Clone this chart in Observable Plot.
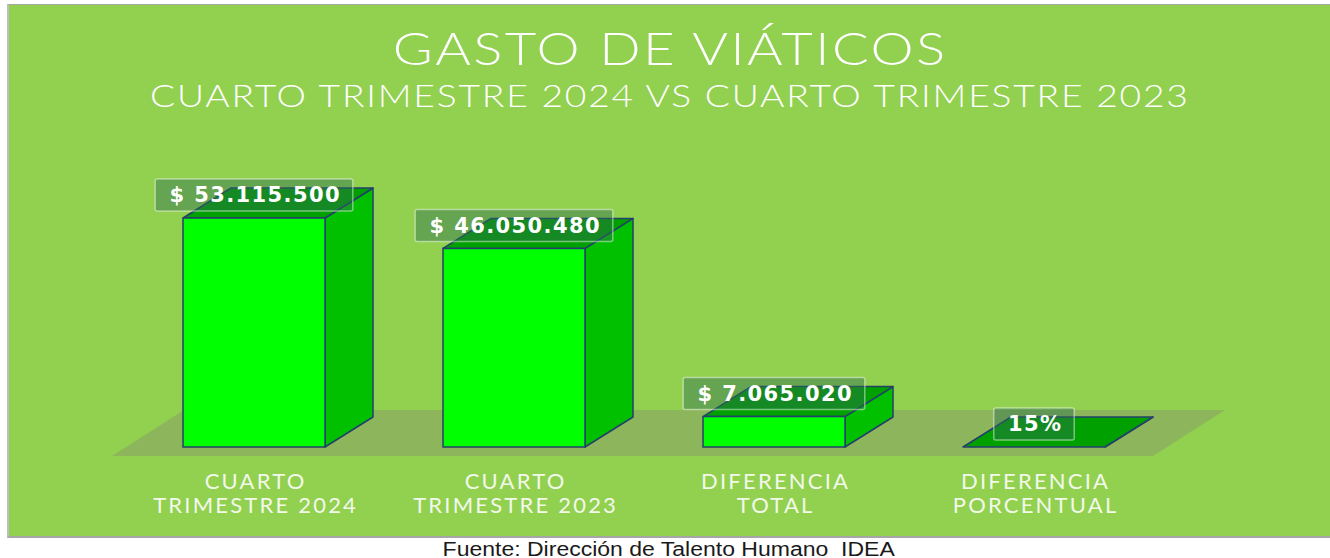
<!DOCTYPE html>
<html><head><meta charset="utf-8">
<script src="https://cdn.jsdelivr.net/npm/d3@7"></script>
<script src="https://cdn.jsdelivr.net/npm/@observablehq/plot@0.6"></script>
<style>
html,body{margin:0;padding:0;background:#fff;}
body{width:1330px;height:558px;overflow:hidden;position:relative;}
#panel{position:absolute;left:7px;top:4px;width:1323px;height:534px;background:#92d050;border-top:1px solid #a6a6a6;border-left:2px solid #bfbfbf;border-bottom:2px solid #a6a6a6;box-sizing:border-box;}
.t{position:absolute;left:8px;width:1322px;text-align:center;color:#fff;font-family:Lato,"Open Sans",sans-serif;font-weight:300;white-space:nowrap;line-height:1;transform-origin:661px 0;}
#title{top:26px;font-size:45px;letter-spacing:2px;text-indent:2px;transform:scaleX(1.21);}
#subtitle{top:80px;font-size:31px;letter-spacing:1.5px;text-indent:1.5px;transform:scaleX(1.2);}
#chart{position:absolute;left:0;top:120px;}
#caption{position:absolute;left:8px;width:1322px;top:539px;text-align:center;font-family:"Liberation Sans",Arial,sans-serif;font-size:20px;color:#1a1a1a;line-height:1;transform:scaleX(1.15);transform-origin:663px 0;}
</style></head>
<body>
<div id="panel"></div>
<div class="t" id="title">GASTO DE VIÁTICOS</div>
<div class="t" id="subtitle">CUARTO TRIMESTRE 2024 VS CUARTO TRIMESTRE 2023</div>
<div id="chart"></div>
<div id="caption">Fuente: Dirección de Talento Humano&nbsp; IDEA</div>
<script>
// ---- data ----
const categories = ["CUARTO\nTRIMESTRE 2024", "CUARTO\nTRIMESTRE 2023", "DIFERENCIA\nTOTAL", "DIFERENCIA\nPORCENTUAL"];
const values = [53115500, 46050480, 7065020, 0.15];
const valueLabels = ["$ 53.115.500", "$ 46.050.480", "$ 7.065.020", "15%"];

// ---- layout (pixels) ----
const W = 1330, H = 416, SVG_TOP = 120;
const STEP = 260, X0 = 254, HALF = 71, DEPTH_X = 48, DEPTH_Y = 30;
const BASE = 447 - SVG_TOP;           // baseline inside svg
const TALL = 229;                     // px height of tallest bar
const k = d3.max(values) / TALL;      // value units per px
const ux = px => px / STEP;           // px -> x units
const uy = px => px * k;              // px -> y units

const bars = categories.map((c, i) => ({i, cat: c, v: values[i], label: valueLabels[i]}));
const hw = ux(HALF), D = ux(DEPTH_X), Dy = uy(DEPTH_Y);

const sideFaces = bars.flatMap(b => [
  {i: b.i, x: b.i + hw, y1: 0, y2: b.v},
  {i: b.i, x: b.i + hw + D, y1: Dy, y2: b.v + Dy}
]);
const topFaces = bars.flatMap(b => [
  {i: b.i, x: b.i - hw, y1: b.v, y2: b.v},
  {i: b.i, x: b.i - hw + D, y1: b.v, y2: b.v + Dy},
  {i: b.i, x: b.i + hw, y1: b.v, y2: b.v + Dy},
  {i: b.i, x: b.i + hw + D, y1: b.v + Dy, y2: b.v + Dy}
]);
const fl = {x0: -hw, x1: bars.length - 1 + hw + D, dxl: ux(71), dx: ux(72), yb: uy(-9), yt: uy(37)};
const floorPts = [
  {x: fl.x0 - fl.dxl, y1: fl.yb, y2: fl.yb},
  {x: fl.x0 - fl.dxl + fl.dx, y1: fl.yb, y2: fl.yt},
  {x: fl.x1, y1: fl.yb, y2: fl.yt},
  {x: fl.x1 + fl.dx, y1: fl.yt, y2: fl.yt}
];

const LS = 1.4, LS_CAT = 2.2;
const ctx = document.createElement("canvas").getContext("2d");
ctx.font = 'bold 21px "DejaVu Sans"';
bars.forEach(b => { b.w = ctx.measureText(b.label).width + LS * b.label.length + 26; });

const stroke = "#24406a";
const chart = Plot.plot({
  width: W, height: H,
  marginTop: 0, marginRight: 0, marginBottom: 0, marginLeft: 0,
  x: {type: "linear", domain: [ux(-X0), ux(W - X0)], range: [0, W], axis: null},
  y: {type: "linear", domain: [uy(BASE - H), uy(BASE)], range: [H, 0], axis: null},
  style: {background: "transparent", overflow: "visible"},
  marks: [
    Plot.area(floorPts, {x1: "x", y1: "y1", y2: "y2", fill: "#8db65c"}),
    Plot.area(sideFaces, {x1: "x", y1: "y1", y2: "y2", z: "i", fill: "#00c000", stroke, strokeWidth: 1.5, strokeLinejoin: "round"}),
    Plot.area(topFaces, {x1: "x", y1: "y1", y2: "y2", z: "i", fill: "#00a000", stroke, strokeWidth: 1.5, strokeLinejoin: "round"}),
    Plot.rect(bars, {x1: d => d.i - hw, x2: d => d.i + hw, y1: 0, y2: "v", fill: "#00ff00", stroke, strokeWidth: 1.5}),
    Plot.rect(bars, {x1: d => d.i - ux(d.w / 2), x2: d => d.i + ux(d.w / 2), y1: d => d.v + uy(7), y2: d => d.v + uy(39),
      fill: "#2e6e50", fillOpacity: 0.45, stroke: "#ffffff", strokeOpacity: 0.45, strokeWidth: 1.5, rx: 2}),
    Plot.text(bars, {x: "i", y: d => d.v + uy(23), text: "label", fill: "#ffffff", fontSize: 21, fontWeight: "bold",
      fontFamily: "DejaVu Sans", dx: LS / 2}),
    Plot.text(bars, {x: "i", y: uy(BASE - 493 + SVG_TOP), text: "cat", fill: "#f3f9ea", fontSize: 22, fontFamily: "Lato",
      fontWeight: 400, lineHeight: 1.1, dx: LS_CAT / 2})
  ]
});
const textGroups = chart.querySelectorAll('g[aria-label="text"]');
if (textGroups[0]) textGroups[0].style.letterSpacing = LS + "px";
if (textGroups[1]) textGroups[1].style.letterSpacing = LS_CAT + "px";
document.getElementById("chart").appendChild(chart);
</script>
</body></html>
